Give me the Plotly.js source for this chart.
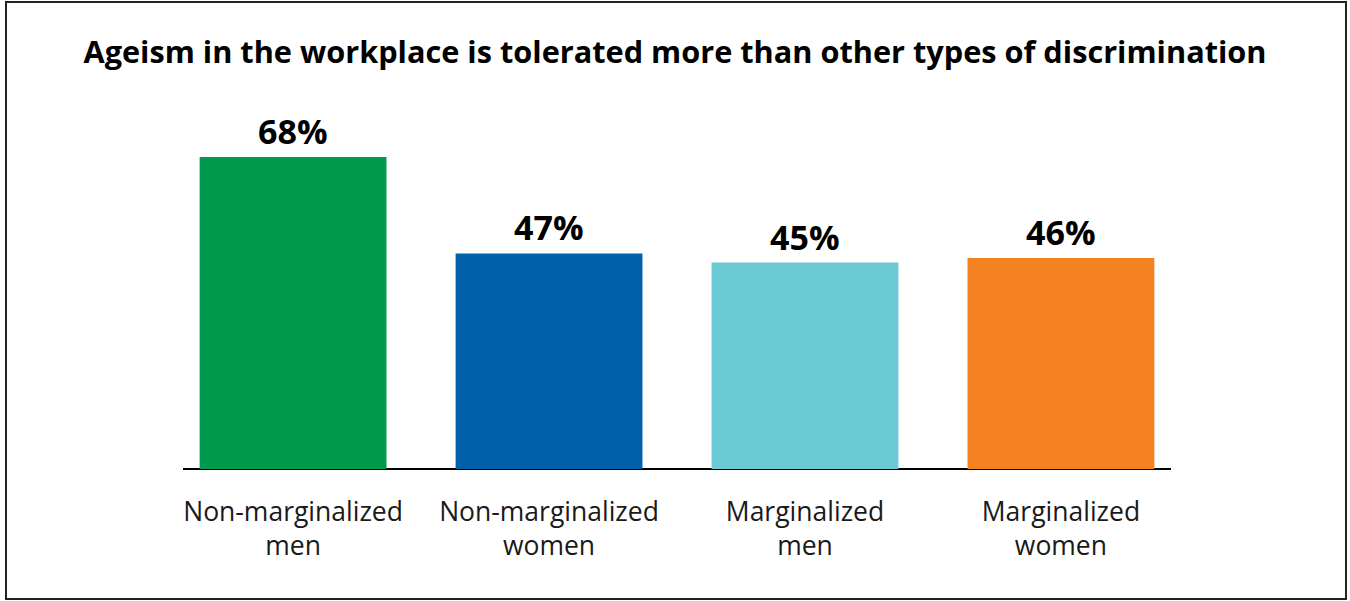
<!DOCTYPE html>
<html>
<head>
<meta charset="utf-8">
<script src="https://cdn.plot.ly/plotly-3.0.1.min.js"></script>
<style>
html,body{margin:0;padding:0;background:#fff;}
#wrap{position:relative;width:1350px;height:601px;}
#chart{width:1350px;height:601px;}
#frame{position:absolute;left:5px;top:1px;width:1338px;height:595px;border:2px solid #222;pointer-events:none;}
</style>
</head>
<body>
<div id="wrap"><div id="chart"></div><div id="frame"></div></div>
<script>
const categories = ["Non-marginalized<br>men", "Non-marginalized<br>women", "Marginalized<br>men", "Marginalized<br>women"];
const values = [68, 47, 45, 46];
const labels = ["68%", "47%", "45%", "46%"];
const colors = ["#009A4D", "#0060A9", "#6CCAD4", "#F58220"];

const trace = {
  type: "bar",
  x: categories,
  y: values,
  marker: {color: colors, line: {width: 0}},
  width: 0.73,
  hoverinfo: "none"
};

const annotations = categories.map((c, i) => ({
  x: c, y: values[i], xref: "x", yref: "y",
  text: "<b>" + labels[i] + "</b>",
  showarrow: false, yanchor: "bottom", yshift: 1,
  font: {family: "Open Sans", size: 34, color: "#000"}
}));

const layout = {
  width: 1350, height: 601,
  margin: {l: 183, r: 179, t: 102, b: 132},
  paper_bgcolor: "#fff", plot_bgcolor: "#fff",
  showlegend: false,
  title: {
    text: "<b>Ageism in the workplace is tolerated more than other types of discrimination</b>",
    font: {family: "Open Sans", size: 30.7, color: "#000"},
    x: 0.5, xanchor: "center", xref: "container",
    y: 1 - 52/601, yanchor: "middle", yref: "container"
  },
  xaxis: {
    type: "category",
    range: [-0.43, 3.43],
    showline: false, showgrid: false, zeroline: false,
    ticks: "", ticklen: 0, ticklabelstandoff: 24,
    tickfont: {family: "Open Sans", size: 26.5, color: "#1a1a1a"},
    fixedrange: true
  },
  yaxis: {
    range: [0, 80],
    showgrid: false, showticklabels: false, showline: false,
    zeroline: true, zerolinecolor: "#000", zerolinewidth: 1.5,
    fixedrange: true
  },
  annotations: annotations,
  font: {family: "Open Sans"}
};

Plotly.newPlot("chart", [trace], layout, {displayModeBar: false, staticPlot: true});
</script>
</body>
</html>
